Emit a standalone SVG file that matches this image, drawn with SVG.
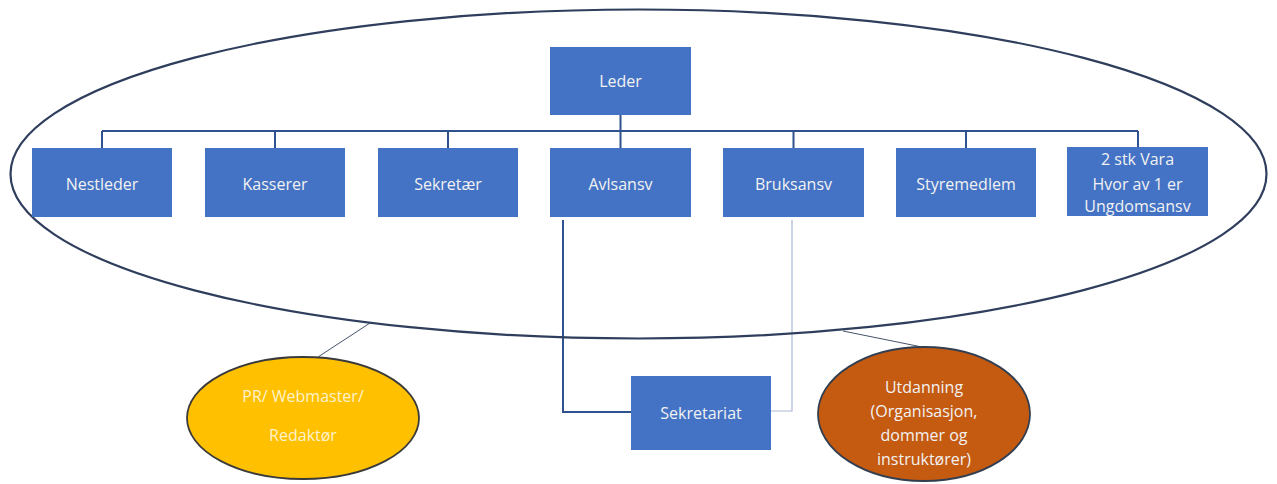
<svg xmlns="http://www.w3.org/2000/svg" width="1277" height="484" viewBox="0 0 1277 484">
<style>
.box{fill:#4472C4;}
.t{font-family:"Open Sans","Liberation Sans",sans-serif;font-size:16px;fill:#F2F2F2;text-anchor:middle;}
.ln{stroke:#2F528F;stroke-width:2;fill:none;}
.ln2{stroke:#A9B8D3;stroke-width:1.2;fill:none;}
.thin{stroke:#44546A;stroke-width:1;fill:none;}
</style>
<rect width="1277" height="484" fill="#FFFFFF"/>
<g id="connectors">
<path class="ln" d="M620.5 115 V131 M102 131 H1138 M102 131 V148 M275 131 V148 M448 131 V148 M620.5 131 V148 M793.5 131 V148 M966 131 V148 M1138 131 V148"/>
<path class="ln" d="M563 220 V412 H631"/>
<path class="ln2" d="M771 411 H792 V220"/>
<path class="thin" d="M318 357 L370 323"/>
<path class="thin" d="M843 331 L922 347"/>
</g>
<g id="outer-ellipse"><ellipse cx="638.5" cy="174" rx="628" ry="164.5" fill="none" stroke="#2F3E5C" stroke-width="2.2"/></g>
<g id="leder"><rect class="box" x="550" y="47" width="141" height="68"/><text class="t" x="620.5" y="87">Leder</text></g>
<g id="nestleder"><rect class="box" x="32" y="148" width="140" height="69"/><text class="t" x="102" y="190">Nestleder</text></g>
<g id="kasserer"><rect class="box" x="205" y="148" width="140" height="69"/><text class="t" x="275" y="190">Kasserer</text></g>
<g id="sekretaer"><rect class="box" x="378" y="148" width="140" height="69"/><text class="t" x="448" y="190">Sekretær</text></g>
<g id="avlsansv"><rect class="box" x="550" y="148" width="141" height="69"/><text class="t" x="620.5" y="190">Avlsansv</text></g>
<g id="bruksansv"><rect class="box" x="723" y="148" width="141" height="69"/><text class="t" x="793.5" y="190">Bruksansv</text></g>
<g id="styremedlem"><rect class="box" x="896" y="148" width="140" height="69"/><text class="t" x="966" y="190">Styremedlem</text></g>
<g id="vara"><rect class="box" x="1067" y="147" width="141" height="69"/><text class="t" x="1137.5" y="165">2 stk Vara</text><text class="t" x="1137.5" y="190">Hvor av 1 er</text><text class="t" x="1137.5" y="212">Ungdomsansv</text></g>
<g id="sekretariat"><rect class="box" x="631" y="376" width="140" height="74"/><text class="t" x="701" y="419">Sekretariat</text></g>
<g id="pr"><ellipse cx="303" cy="418" rx="116" ry="61" fill="#FFC000" stroke="#3A3A3A" stroke-width="1.8"/><text class="t" x="303" y="402" style="fill:#FFF2CC">PR/ Webmaster/</text><text class="t" x="303" y="441" style="fill:#FFF2CC">Redaktør</text></g>
<g id="utdanning"><ellipse cx="924" cy="414" rx="106" ry="67" fill="#C55A11" stroke="#333F50" stroke-width="1.8"/><text class="t" x="924" y="393">Utdanning</text><text class="t" x="924" y="417">(Organisasjon,</text><text class="t" x="924" y="441">dommer og</text><text class="t" x="924" y="465">instruktører)</text></g>
</svg>
